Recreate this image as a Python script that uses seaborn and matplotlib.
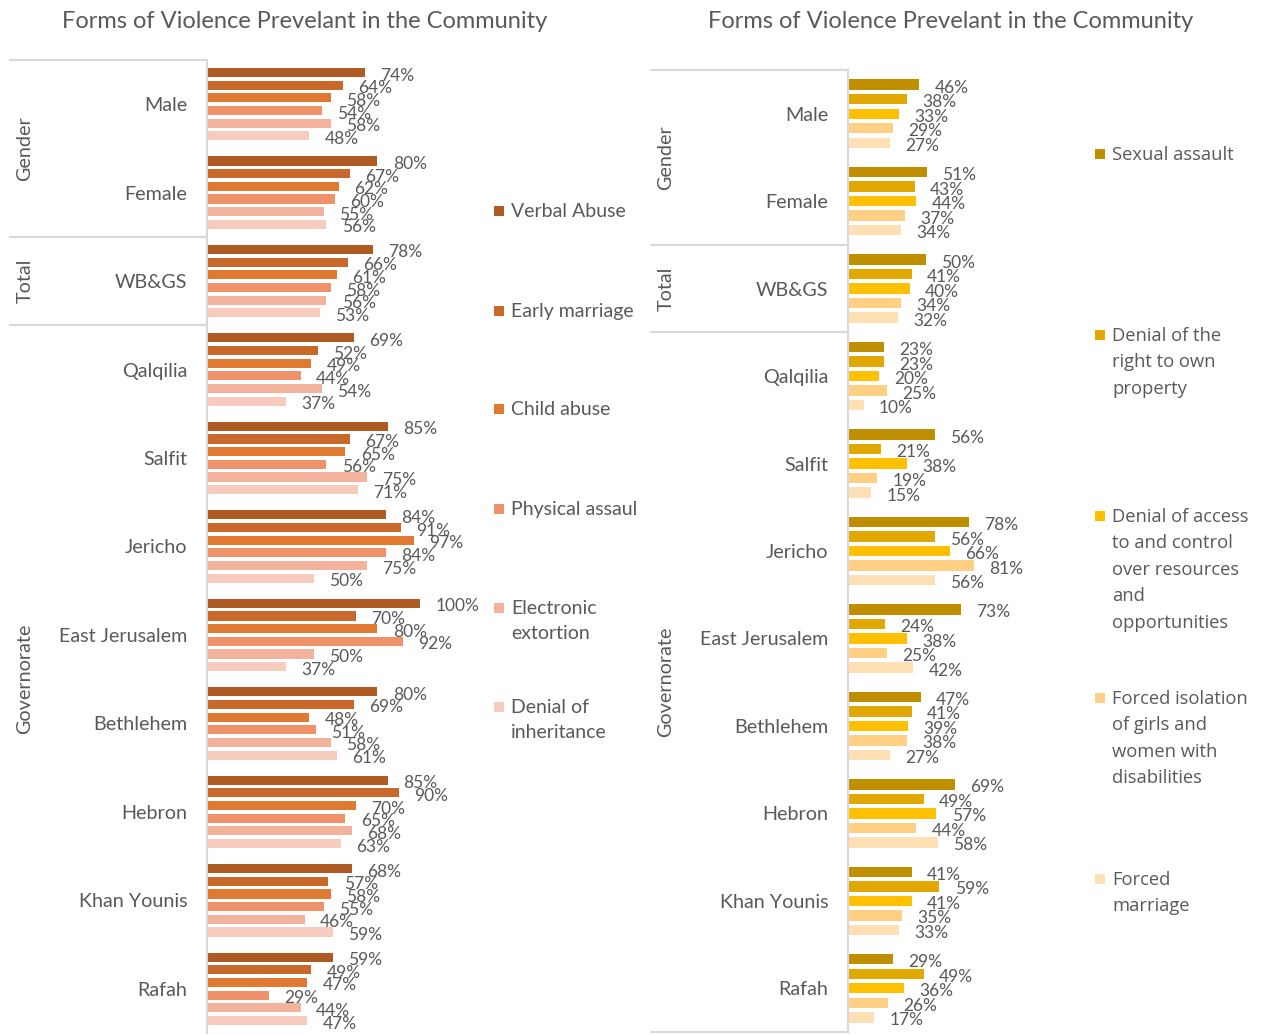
import pandas as pd
import seaborn as sns
import matplotlib.pyplot as plt
from matplotlib.patches import Rectangle
from matplotlib.transforms import blended_transform_factory

# Row categories (shared by both panels)
groups = ["Male", "Female", "WB&GS", "Qalqilia", "Salfit", "Jericho",
          "East Jerusalem", "Bethlehem", "Hebron", "Khan Younis", "Rafah"]
sections = [("Gender", -0.5, 1.5), ("Total", 1.5, 2.5), ("Governorate", 2.5, 10.5)]

# Left panel series (%)
verbal_abuse = [74, 80, 78, 69, 85, 84, 100, 80, 85, 68, 59]
early_marriage = [64, 67, 66, 52, 67, 91, 70, 69, 90, 57, 49]
child_abuse = [58, 62, 61, 49, 65, 97, 80, 48, 70, 58, 47]
physical_assault = [54, 60, 58, 44, 56, 84, 92, 51, 65, 55, 29]
electronic_extortion = [58, 55, 56, 54, 75, 75, 50, 58, 68, 46, 44]
denial_inheritance = [48, 56, 53, 37, 71, 50, 37, 61, 63, 59, 47]

left_names = ["Verbal Abuse", "Early marriage", "Child abuse", "Physical assaul",
              "Electronic\nextortion", "Denial of\ninheritance"]
left_series = [verbal_abuse, early_marriage, child_abuse, physical_assault,
               electronic_extortion, denial_inheritance]
left_colors = ["#B05A23", "#C9682B", "#E07A32", "#EF9169", "#F3B29B", "#F7CBBE"]

# Right panel series (%)
sexual_assault = [46, 51, 50, 23, 56, 78, 73, 47, 69, 41, 29]
denial_property = [38, 43, 41, 23, 21, 56, 24, 41, 49, 59, 49]
denial_access = [33, 44, 40, 20, 38, 66, 38, 39, 57, 41, 36]
forced_isolation = [29, 37, 34, 25, 19, 81, 25, 38, 44, 35, 26]
forced_marriage = [27, 34, 32, 10, 15, 56, 42, 27, 58, 33, 17]

right_names = ["Sexual assault", "Denial of the\nright to own\nproperty",
               "Denial of access\nto and control\nover resources\nand\nopportunities",
               "Forced isolation\nof girls and\nwomen with\ndisabilities",
               "Forced\nmarriage"]
right_series = [sexual_assault, denial_property, denial_access,
                forced_isolation, forced_marriage]
right_colors = ["#BF8F00", "#E0A800", "#FFC000", "#FFD083", "#FFE0B4"]

TEXT = "#595959"
GRID = "#D9D9D9"
W, H = 1261, 1035

sns.set_theme(style="white")
plt.rcParams["font.family"] = ["Lato", "DejaVu Sans"]

fig = plt.figure(figsize=(W / 100, H / 100), dpi=100)


def long_frame(names, series):
    rows = []
    for name, vals in zip(names, series):
        for g, v in zip(groups, vals):
            rows.append({"group": g, "form": name, "pct": v})
    return pd.DataFrame(rows)


def panel(rect_px, names, series, colors, width, title, title_x,
          sep_x0, section_x, legend_x, legend_y, legend_font, bottom_rule):
    x0, top, w, bottom = rect_px
    ax = fig.add_axes([x0 / W, 1 - bottom / H, w / W, (bottom - top) / H])
    df = long_frame(names, series)
    sns.barplot(data=df, y="group", x="pct", hue="form", hue_order=names,
                order=groups, palette=colors, saturation=1, orient="h",
                width=width, gap=0.28, linewidth=0, legend=False, ax=ax)
    ax.set_xlim(0, 100)
    ax.set_ylim(len(groups) - 0.5, -0.5)
    for cont, vals in zip(ax.containers, series):
        anns = ax.bar_label(cont, labels=[f"{v}%" for v in vals], padding=11,
                            fontsize=12.5, color=TEXT)
        for a in anns:
            a.xyann = (11, -2.2)
    ax.set_xlabel("")
    ax.set_ylabel("")
    ax.set_xticks([])
    ax.tick_params(axis="y", length=0, pad=14, labelsize=14.2, labelcolor=TEXT)
    for s in ["top", "right", "bottom"]:
        ax.spines[s].set_visible(False)
    ax.spines["left"].set_color(GRID)
    ax.spines["left"].set_linewidth(1.5)

    # Section separators and section names
    trans = blended_transform_factory(fig.transFigure, ax.transData)
    bounds = [-0.5, 1.5, 2.5] + ([10.5] if bottom_rule else [])
    for b in bounds:
        ax.plot([sep_x0 / W, x0 / W], [b, b], color=GRID, lw=1.5,
                transform=trans, clip_on=False)
    for name, a, b in sections:
        ax.text(section_x / W, (a + b) / 2, name, rotation=90, ha="center",
                va="center", fontsize=14.2, color=TEXT, transform=trans)

    fig.text(title_x / W, 1 - 22 / H, title, ha="center", va="center",
             fontsize=17, color=TEXT)

    # Legend entries
    size, family, spacing = legend_font
    for name, col, ly in zip(names, colors, legend_y):
        fig.add_artist(Rectangle((legend_x / W, 1 - (ly + 5) / H), 10 / W, 10 / H,
                                 transform=fig.transFigure, color=col, lw=0))
        fig.text((legend_x + 17) / W, 1 - (ly - 8) / H, name, ha="left", va="top",
                 fontsize=size, family=family, color=TEXT, linespacing=spacing)
    return ax


panel((207, 60, 213, 1033), left_names, left_series, left_colors, 0.86,
      "Forms of Violence Prevelant in the Community", 305, 10, 25, 494,
      [211, 311, 409, 509, 608, 707], (14, ["Lato", "DejaVu Sans"], 1.58), False)
panel((848, 70, 155, 1032), right_names, right_series, right_colors, 0.83,
      "Forms of Violence Prevelant in the Community", 951, 651, 666, 1095,
      [154, 335, 516, 698, 879], (13.2, ["Open Sans", "DejaVu Sans"], 1.6), True)

fig.savefig("out.png", dpi=100)
